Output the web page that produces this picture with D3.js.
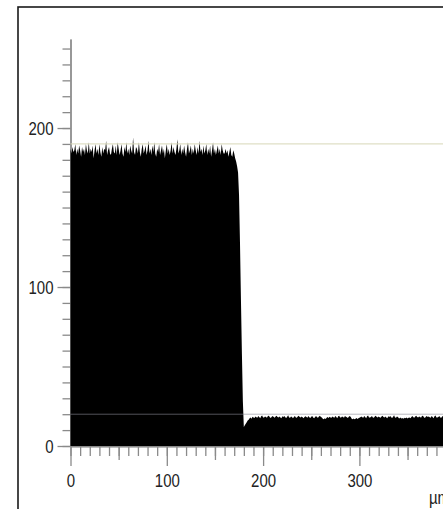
<!DOCTYPE html>
<html>
<head>
<meta charset="utf-8">
<script src="https://cdn.jsdelivr.net/npm/d3@7"></script>
<style>
  html, body { margin: 0; padding: 0; background: #fff; overflow: hidden; }
  svg { display: block; }
</style>
</head>
<body>
<svg id="chart" width="443" height="509"></svg>
<script>
// Intensity profile along the scan line, one sample per micrometre.
const stepUm = 1;

// 0 – 169 µm: bright plateau
const plateau = [
  187,184,188,185,186,190,183,187,184,189,
  186,182,188,185,187,183,190,186,184,191,
  184,187,185,189,181,186,190,184,187,183,
  190,185,182,188,184,187,186,192,183,186,
  188,184,183,187,190,185,184,189,183,191,
  187,183,186,190,184,182,188,185,191,184,
  187,183,189,186,184,194,185,183,188,187,
  184,191,185,182,187,190,184,186,189,183,
  186,192,184,187,183,189,185,191,184,182,
  187,185,190,183,186,189,184,187,181,186,
  190,184,187,183,186,191,184,188,185,183,
  187,193,184,186,190,183,187,184,189,185,
  182,187,191,184,186,189,183,187,184,190,
  186,183,188,184,192,185,187,183,189,184,
  186,190,183,187,184,189,182,186,191,184,
  187,183,186,189,184,187,183,190,186,184,
  184,187,184,186,182,185,188,183,182,186
];

// 170 – 181 µm: falling edge
const edge = [184,181,179,176,172,158,128,92,58,28,12,13];

// 182 – 400 µm: background level
const background = [
  14,15,16,16.5,17.5,18,17.2,18.4,18,17.6,
  18.6,18.1,17.8,18.9,18.3,17.5,18.7,19.2,18,17.9,
  18.5,18.2,17.7,18.8,19,18.1,17.6,18.4,18.9,18.2,
  17.8,18.6,19.1,18.3,17.9,18.5,18,17.4,18.7,18.2,
  18.9,18.1,17.6,18.4,19.3,18,17.8,18.6,18.2,17.5,
  18.3,18.8,18,17.7,18.5,19,18.2,17.9,18.6,18.1,
  17.4,18.2,18.7,18.3,17.8,18.9,18.1,17.6,18.4,18.8,
  18,17.5,18.3,18.9,18.1,17.7,18.5,19.1,18.2,17.9,
  17.2,16.8,17.4,17,17.8,18.2,17.6,18.4,18,17.7,
  18.6,18.1,17.8,18.9,18.3,17.5,18.7,19,18,17.9,
  18.5,18.2,17.7,18.8,18.4,18.1,17.6,18.4,18.9,18.2,
  17.1,16.9,17.3,16.8,17.2,17.6,17,17.4,17.8,18.1,
  18.6,18.1,17.8,18.9,18.3,17.5,18.7,19.2,18,17.9,
  18.3,18.8,18,17.7,18.5,19,18.2,17.9,18.6,18.1,
  17.8,18.6,19.1,18.3,17.9,18.5,18,17.4,18.7,18.2,
  18.9,18.1,17.6,18.4,19.3,18,17.8,18.6,18.2,17.5,
  17.4,17.9,17.2,17.6,17.1,17.8,17.5,18,17.3,17.7,
  18,17.5,18.3,18.9,18.1,17.7,18.5,19.1,18.2,17.9,
  18.5,18.2,17.7,18.8,19,18.1,17.6,18.4,18.9,18.2,
  18.6,18.1,17.8,18.9,18.3,17.5,18.7,19.2,18,17.9,
  18.3,18.8,18,17.7,18.5,19,18.2,17.9,18.6,18.1,
  17.8,18.6,19.1,18.3,17.9,18.5,18,17.4,18.7
];

// Reference levels
const upperLevel = 190;
const lowerLevel = 20;

// Axis ticks
const yMinorTicks = d3.range(0, 260, 10);
const yMajorTicks = [0, 100, 200];
const xMinorTicks = d3.range(0, 410, 10);
const xMidTicks = [50, 150, 250, 350];
const xMajorTicks = [0, 100, 200, 300, 400];
const xLabelTicks = [0, 100, 200, 300];
const xUnit = "µm";

const profile = plateau.concat(edge, background).map((v, i) => ({ x: i * stepUm, v }));

const svg = d3.select("#chart");
const fontFamily = "'Liberation Sans', Arial, sans-serif";
const fontPx = 19;

// Condensed digits: squeeze so a three-digit label is ~25px wide.
const probe = svg.append("text")
  .style("font-family", fontFamily).style("font-size", fontPx + "px").text("200");
const probeLen = probe.node().getComputedTextLength() || 31;
probe.remove();
const narrow = 25 / probeLen;

// Frame
svg.append("rect")
  .attr("x", 18).attr("y", 7)
  .attr("width", 700).attr("height", 700)
  .attr("fill", "none").attr("stroke", "#1a1a1a").attr("stroke-width", 1.6);

const x = d3.scaleLinear().domain([0, 400]).range([70.5, 70.5 + 400 * 0.963]);
const y = d3.scaleLinear().domain([0, 256]).range([446, 39]);

const axisColor = "#8a8a8a";

function styleAxis(g) {
  g.selectAll("path.domain").attr("stroke", axisColor).attr("stroke-width", 1.3);
  g.selectAll(".tick line").attr("stroke", axisColor).attr("stroke-width", 1.3);
  g.selectAll(".tick text").each(function () {
    const t = d3.select(this);
    const tx = +t.attr("x") || 0, ty = +t.attr("y") || 0;
    t.attr("x", 0).attr("y", 0)
      .attr("transform", `translate(${tx},${ty}) scale(${narrow},1)`)
      .attr("fill", "#222")
      .style("font-family", fontFamily)
      .style("font-size", fontPx + "px");
  });
}

// Y axis
svg.append("g").attr("transform", `translate(${x(0)},0)`)
  .call(d3.axisLeft(y).tickValues(yMinorTicks).tickSize(8).tickSizeOuter(0).tickFormat(""))
  .call(styleAxis);
svg.append("g").attr("transform", `translate(${x(0)},0)`)
  .call(d3.axisLeft(y).tickValues(yMajorTicks).tickSize(13).tickSizeOuter(0).tickPadding(4))
  .call(styleAxis);

// X axis
svg.append("g").attr("transform", `translate(0,${y(0)})`)
  .call(d3.axisBottom(x).tickValues(xMinorTicks).tickSize(10).tickSizeOuter(0).tickFormat(""))
  .call(styleAxis);
svg.append("g").attr("transform", `translate(0,${y(0)})`)
  .call(d3.axisBottom(x).tickValues(xMidTicks).tickSize(14).tickSizeOuter(0).tickFormat(""))
  .call(styleAxis);
svg.append("g").attr("transform", `translate(0,${y(0)})`)
  .call(d3.axisBottom(x).tickValues(xMajorTicks).tickSize(20).tickSizeOuter(0)
    .tickPadding(8).tickFormat(d => xLabelTicks.includes(d) ? d : ""))
  .call(styleAxis);

// Profile area
const area = d3.area()
  .x(d => x(d.x))
  .y0(y(0))
  .y1(d => y(d.v));

svg.append("path")
  .datum(profile)
  .attr("d", area)
  .attr("fill", "#000");

// Reference lines
svg.append("line")
  .attr("x1", x(0)).attr("x2", x(400))
  .attr("y1", y(upperLevel)).attr("y2", y(upperLevel))
  .attr("stroke", "#d9d9b8").attr("stroke-width", 1.2).attr("opacity", 0.8);
svg.append("line")
  .attr("x1", x(0)).attr("x2", x(400))
  .attr("y1", y(lowerLevel)).attr("y2", y(lowerLevel))
  .attr("stroke", "#8c8c96").attr("stroke-width", 1).attr("opacity", 0.6);

// Unit label
svg.append("text")
  .attr("transform", `translate(429,504) scale(${narrow},1)`)
  .attr("fill", "#222")
  .style("font-family", fontFamily)
  .style("font-size", fontPx + "px")
  .text(xUnit);
</script>
</body>
</html>
